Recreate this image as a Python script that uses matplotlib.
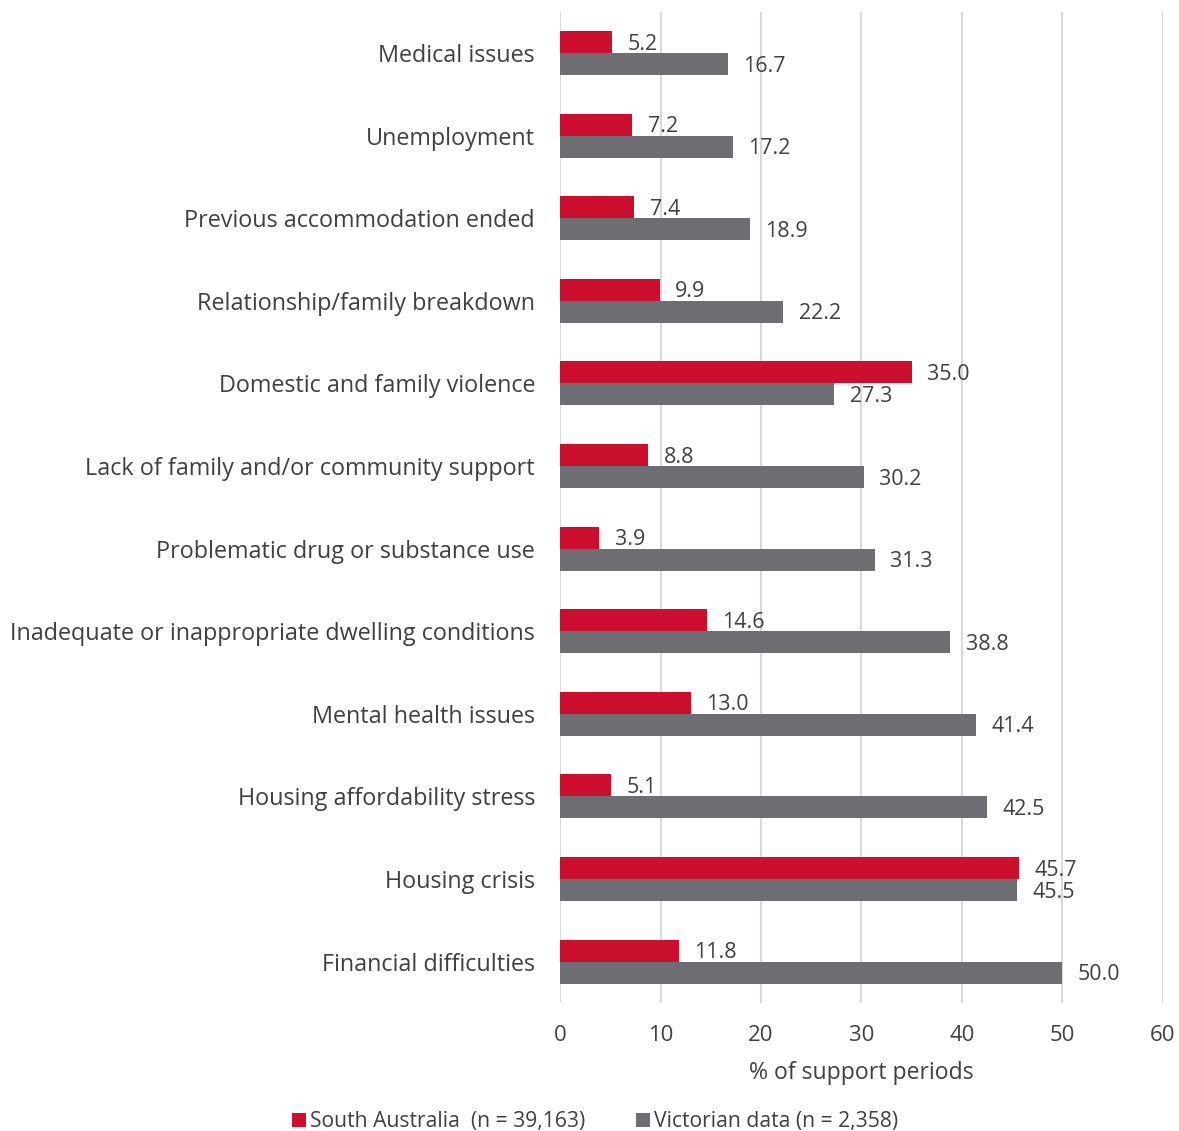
import numpy as np
import matplotlib.pyplot as plt

categories = [
    "Medical issues",
    "Unemployment",
    "Previous accommodation ended",
    "Relationship/family breakdown",
    "Domestic and family violence",
    "Lack of family and/or community support",
    "Problematic drug or substance use",
    "Inadequate or inappropriate dwelling conditions",
    "Mental health issues",
    "Housing affordability stress",
    "Housing crisis",
    "Financial difficulties",
]
south_australia = [5.2, 7.2, 7.4, 9.9, 35.0, 8.8, 3.9, 14.6, 13.0, 5.1, 45.7, 11.8]
victoria = [16.7, 17.2, 18.9, 22.2, 27.3, 30.2, 31.3, 38.8, 41.4, 42.5, 45.5, 50.0]
series_labels = ["South Australia  (n = 39,163)", "Victorian data (n = 2,358)"]

RED = "#CC0F2E"
GREY = "#6D6E71"
TEXT = "#404040"

plt.rcParams["font.family"] = ["Open Sans", "DejaVu Sans"]

fig = plt.figure(figsize=(11.79, 11.31), dpi=100)
ax = fig.add_axes([0.475, 0.1132, 0.5114, 0.8765])

y = np.arange(len(categories))
h = 0.266
bars_sa = ax.barh(y - h / 2, south_australia, height=h, color=RED, label=series_labels[0], zorder=3)
bars_vic = ax.barh(y + h / 2, victoria, height=h, color=GREY, label=series_labels[1], zorder=3)

# value labels just right of each bar end
for bars, vals in ((bars_sa, south_australia), (bars_vic, victoria)):
    for b, v in zip(bars, vals):
        ax.text(v + 1.55, b.get_y() + b.get_height() / 2 + 0.025, f"{v:.1f}",
                va="center", ha="left", fontsize=15.4, color=TEXT)

ax.set_ylim(len(categories) - 0.5, -0.5)
ax.set_xlim(0, 60)
ax.set_xticks(range(0, 61, 10))
ax.set_yticks(y)
ax.set_yticklabels(categories)
ax.grid(axis="x", color="#D9D9D9", linewidth=1.5, zorder=0)
for s in ax.spines.values():
    s.set_visible(False)
ax.tick_params(axis="y", length=0, pad=18, labelsize=16.8, labelcolor=TEXT)
ax.tick_params(axis="x", length=0, pad=16, labelsize=15.9, labelcolor=TEXT)
ax.set_xlabel("% of support periods", fontsize=16.6, color=TEXT, labelpad=11)

fig.legend(loc="lower center", ncol=2, frameon=False, fontsize=15.2,
           labelcolor=TEXT, handlelength=0.65, handleheight=0.65, handletextpad=0.2,
           columnspacing=2.4, bbox_to_anchor=(0.505, -0.018))

fig.savefig("out.png", dpi=100)
